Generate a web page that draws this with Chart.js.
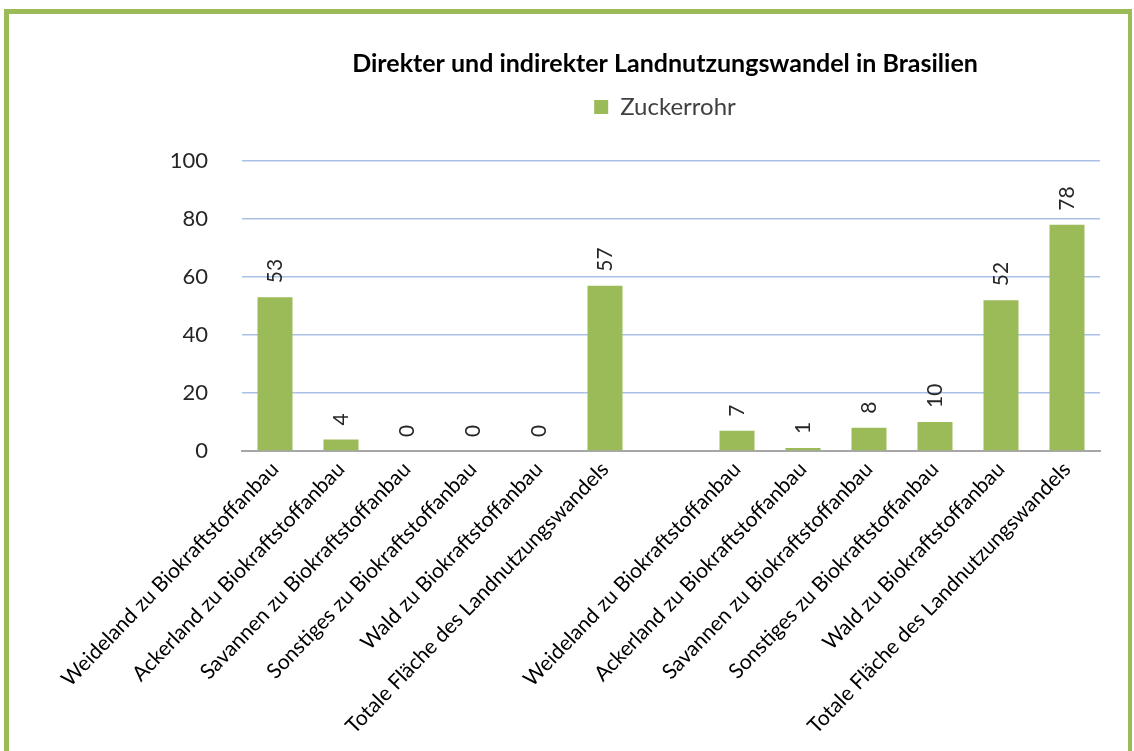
<!DOCTYPE html>
<html>
<head>
<meta charset="utf-8">
<script src="https://cdn.jsdelivr.net/npm/chart.js@4"></script>
<style>
  html, body { margin: 0; padding: 0; background: #fff; }
  body { width: 1134px; height: 751px; overflow: hidden; position: relative; }
  #frame { position: absolute; left: 4px; top: 9px; width: 1119px; height: 800px;
           border: 5px solid #9BBB59; border-right-width: 4px; box-sizing: content-box; }
  #wrap { position: absolute; left: 0; top: 0; width: 1134px; height: 751px; }
</style>
</head>
<body>
<div id="frame"></div>
<div id="wrap"><canvas id="c" width="1134" height="751"></canvas></div>
<script>
const chartTitle = 'Direkter und indirekter Landnutzungswandel in Brasilien';
const seriesName = 'Zuckerrohr';
const categories = [
  'Weideland zu Biokraftstoffanbau',
  'Ackerland zu Biokraftstoffanbau',
  'Savannen zu Biokraftstoffanbau',
  'Sonstiges zu Biokraftstoffanbau',
  'Wald zu Biokraftstoffanbau',
  'Totale Fläche des Landnutzungswandels',
  '',
  'Weideland zu Biokraftstoffanbau',
  'Ackerland zu Biokraftstoffanbau',
  'Savannen zu Biokraftstoffanbau',
  'Sonstiges zu Biokraftstoffanbau',
  'Wald zu Biokraftstoffanbau',
  'Totale Fläche des Landnutzungswandels'
];
const values = [53, 4, 0, 0, 0, 57, null, 7, 1, 8, 10, 52, 78];
const yTicks = [0, 20, 40, 60, 80, 100];

const FONT = 'Lato, "Open Sans", sans-serif';

const valueLabels = {
  id: 'valueLabels',
  afterDatasetsDraw(chart) {
    const ctx = chart.ctx;
    const meta = chart.getDatasetMeta(0);
    const data = chart.data.datasets[0].data;
    ctx.save();
    ctx.font = '21px ' + FONT;
    ctx.fillStyle = '#262626';
    ctx.textAlign = 'left';
    ctx.textBaseline = 'middle';
    meta.data.forEach((bar, i) => {
      const v = data[i];
      if (v === null || v === undefined) return;
      ctx.save();
      ctx.translate(bar.x, bar.y - 14);
      ctx.rotate(-Math.PI / 2);
      ctx.fillText(String(v), 0, 0);
      ctx.restore();
    });
    ctx.restore();
  }
};

const headerLayout = {
  id: 'headerLayout',
  beforeInit(chart) {
    const origFit = chart.legend.fit;
    chart.legend.fit = function () {
      origFit.bind(chart.legend)();
      this.height += 32;
    };
  },
  afterLayout(chart) {
    const shiftLeft = 230;
    [chart.titleBlock, chart.legend].forEach(box => {
      if (!box) return;
      box.left = shiftLeft;
      box.width = box.right - box.left;
    });
  }
};

new Chart(document.getElementById('c'), {
  type: 'bar',
  data: {
    labels: categories,
    datasets: [{
      label: seriesName,
      data: values,
      backgroundColor: '#9BBB59',
      borderWidth: 0,
      categoryPercentage: 1,
      barPercentage: 0.53
    }]
  },
  options: {
    responsive: false,
    animation: false,
    devicePixelRatio: 1,
    layout: { padding: { top: 0, right: 34, bottom: 0, left: 0 } },
    plugins: {
      title: {
        display: true,
        text: chartTitle,
        color: '#000',
        font: { family: FONT, size: 25, weight: 'bold', lineHeight: 1.2 },
        padding: { top: 49, bottom: 6 }
      },
      legend: {
        display: true,
        labels: {
          color: '#404040',
          font: { family: FONT, size: 24 },
          boxWidth: 14,
          boxHeight: 14,
          padding: 10
        }
      },
      tooltip: { enabled: false }
    },
    scales: {
      x: {
        grid: { display: false, drawTicks: false },
        border: { display: true, color: '#A6A6A6', width: 2 },
        ticks: {
          autoSkip: false,
          maxRotation: 46,
          minRotation: 46,
          color: '#000',
          font: { family: FONT, size: 21 },
          padding: 6
        },
        afterFit(scale) { scale.height = 300; }
      },
      y: {
        min: 0,
        max: 100,
        afterBuildTicks(scale) { scale.ticks = yTicks.map(v => ({ value: v })); },
        grid: { color: '#A9C1E6', lineWidth: 1.5, drawTicks: false },
        border: { display: false },
        ticks: {
          color: '#262626',
          font: { family: FONT, size: 22 },
          padding: 34
        },
        afterFit(scale) { scale.width = 242; }
      }
    }
  },
  plugins: [valueLabels, headerLayout]
});
</script>
</body>
</html>
